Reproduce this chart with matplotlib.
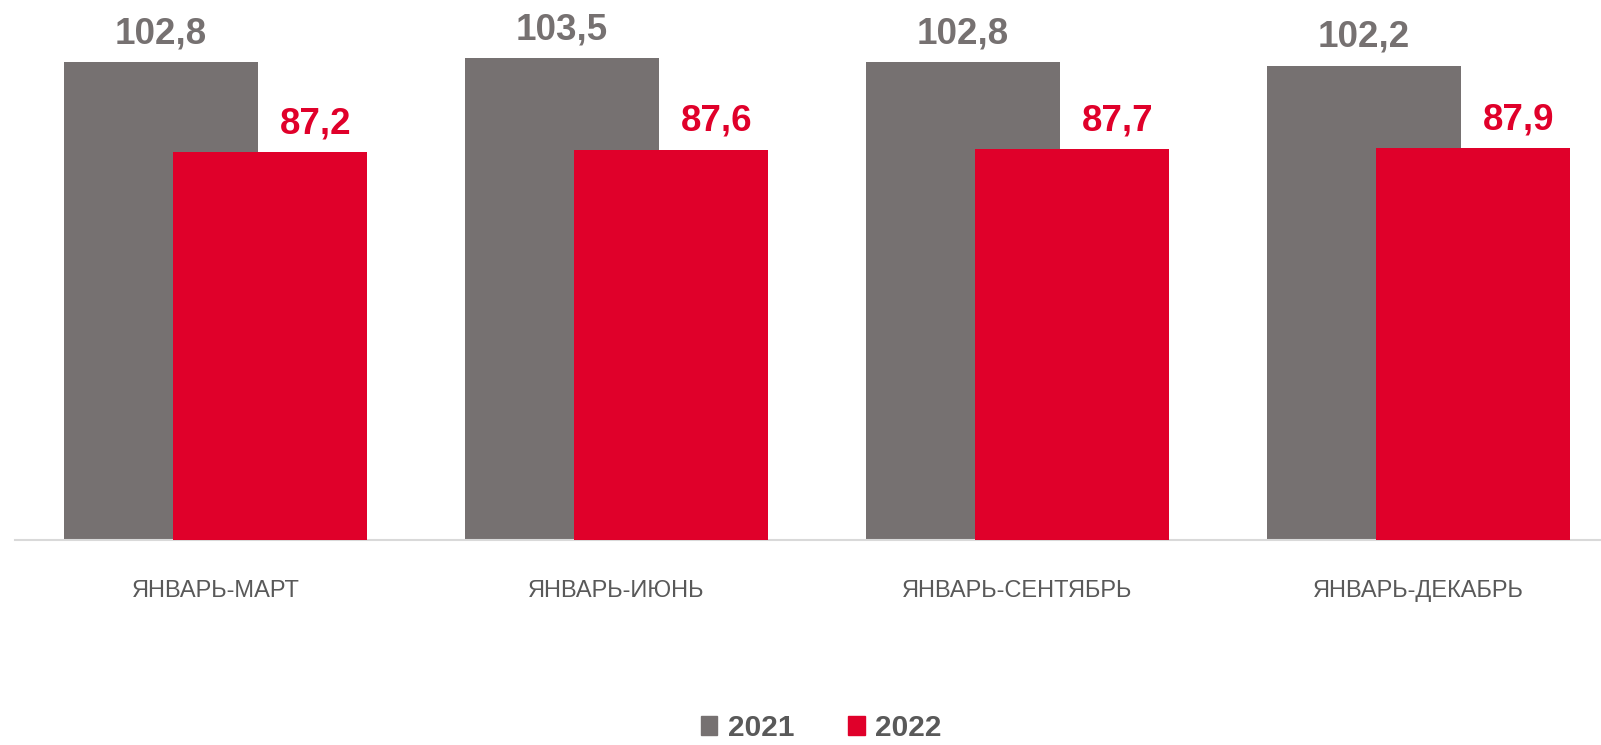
import matplotlib
matplotlib.use("Agg")
import matplotlib.pyplot as plt
import numpy as np
from matplotlib.patches import Patch

plt.rcParams['font.family'] = ['Liberation Sans', 'DejaVu Sans']

categories = ["ЯНВАРЬ-МАРТ", "ЯНВАРЬ-ИЮНЬ", "ЯНВАРЬ-СЕНТЯБРЬ", "ЯНВАРЬ-ДЕКАБРЬ"]
values_2021 = [102.8, 103.5, 102.8, 102.2]
values_2022 = [87.2, 87.6, 87.7, 87.9]
series_names = ["2021", "2022"]

gray = "#767171"
red = "#E0002A"
text_gray = "#595959"

fig = plt.figure(figsize=(16.01, 7.45), dpi=100)
# axes is a bit wider than the figure so the last group sits near the edge
ax = fig.add_axes([15 / 1601, 205 / 745, 1604 / 1601, 540 / 745])

x = np.arange(len(categories))
w = 0.484
off = 0.136
bars1 = ax.bar(x - off, values_2021, width=w, color=gray, zorder=2)
bars2 = ax.bar(x + off, values_2022, width=w, color=red, zorder=3)

for b, v in zip(bars1, values_2021):
    ax.annotate(f"{v:.1f}".replace(".", ","), (b.get_x() + b.get_width() / 2, v),
                xytext=(0, 8), textcoords="offset points", ha="center", va="bottom",
                fontsize=26.5, fontweight="bold", color=gray)
for b, v in zip(bars2, values_2022):
    ax.annotate(f"{v:.1f}".replace(".", ","), (b.get_x() + b.get_width() / 2, v),
                xytext=(33, 8), textcoords="offset points", ha="center", va="bottom",
                fontsize=26.5, fontweight="bold", color=red)

ax.set_xlim(-0.5, len(categories) - 0.5)
ax.set_ylim(20, 113.6)
ax.set_xticks(x)
ax.set_xticklabels(categories, fontsize=17, color=text_gray)
ax.tick_params(axis="x", length=0, pad=29)
ax.set_yticks([])
for s in ["left", "right", "top"]:
    ax.spines[s].set_visible(False)
ax.spines["bottom"].set_color("#D9D9D9")
ax.spines["bottom"].set_linewidth(1.5)

handles = [Patch(color=gray), Patch(color=red)]
leg = fig.legend(handles, series_names, loc="lower center", bbox_to_anchor=(0.513, -0.032),
                 ncol=2, frameon=False, handlelength=0.55, handleheight=0.62,
                 handletextpad=0.35, columnspacing=1.8,
                 prop={"size": 21.5, "weight": "bold"})
for t in leg.get_texts():
    t.set_color(text_gray)

fig.savefig("out.png", dpi=100)
